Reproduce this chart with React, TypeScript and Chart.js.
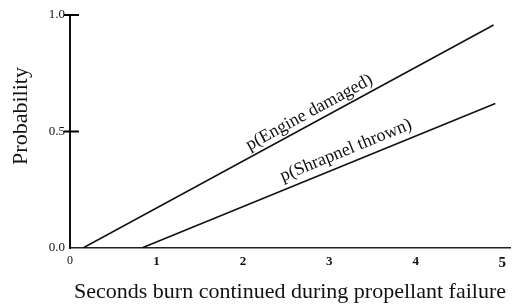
import React, { useEffect, useRef } from "react";
import { Chart, registerables } from "chart.js";
Chart.register(...registerables);

const xTicks = [0, 1, 2, 3, 4, 5];
const yTicks = [0, 0.5, 1.0];
const engineX = [0.15, 4.9];
const engineP = [0, 0.957];
const shrapnelX = [0.83, 4.92];
const shrapnelP = [0, 0.62];
const seriesLabels = ["p(Engine damaged)", "p(Shrapnel thrown)"];
const xTitle = "Seconds burn continued during propellant failure";
const yTitle = "Probability";

const SERIF = "'Liberation Serif', 'Times New Roman', serif";

export default function App() {
  const ref = useRef<HTMLCanvasElement | null>(null);
  useEffect(() => {
    if (!ref.current) return;
    const labelAtX = [2.83, 3.25];
    const labelOff = [11, 13];
    const labelPlugin = {
      id: "lineLabels",
      afterDatasetsDraw(chart: any) {
        const ctx = chart.ctx;
        const xs = chart.scales.x;
        ctx.save();
        ctx.fillStyle = "#111";
        ctx.font = `18px ${SERIF}`;
        ctx.textAlign = "center";
        ctx.textBaseline = "middle";
        chart.data.datasets.forEach((ds: any, i: number) => {
          const meta = chart.getDatasetMeta(i);
          const p0 = meta.data[0];
          const p1 = meta.data[meta.data.length - 1];
          const a = Math.atan2(p1.y - p0.y, p1.x - p0.x);
          const px = xs.getPixelForValue(labelAtX[i]);
          const t = (px - p0.x) / (p1.x - p0.x);
          const py = p0.y + t * (p1.y - p0.y);
          const off = labelOff[i];
          const cx = px + Math.sin(a) * off;
          const cy = py - Math.cos(a) * off;
          ctx.save();
          ctx.translate(cx, cy);
          ctx.rotate(a);
          ctx.fillText(seriesLabels[i], 0, 0);
          ctx.restore();
        });
        ctx.restore();
      },
      afterDraw(chart: any) {
        const ctx = chart.ctx;
        const ys = chart.scales.y;
        const ax = chart.chartArea.left;
        ctx.save();
        ctx.strokeStyle = "#000";
        ctx.lineWidth = 2;
        yTicks.forEach((v) => {
          if (v === 0) return;
          const y = ys.getPixelForValue(v);
          ctx.beginPath();
          ctx.moveTo(ax - 6, y);
          ctx.lineTo(ax + 9, y);
          ctx.stroke();
        });
        ctx.fillStyle = "#111";
        ctx.font = `22px ${SERIF}`;
        ctx.textAlign = "center";
        ctx.textBaseline = "middle";
        ctx.translate(21, 116);
        ctx.rotate(-Math.PI / 2);
        ctx.fillText(yTitle, 0, 0);
        ctx.restore();
      },
    };
    const chart = new Chart(ref.current, {
      type: "scatter",
      data: {
        datasets: [
          {
            label: seriesLabels[0],
            data: engineX.map((x, i) => ({ x, y: engineP[i] })),
            showLine: true,
            borderColor: "#111",
            borderWidth: 1.6,
            pointRadius: 0,
          },
          {
            label: seriesLabels[1],
            data: shrapnelX.map((x, i) => ({ x, y: shrapnelP[i] })),
            showLine: true,
            borderColor: "#111",
            borderWidth: 1.6,
            pointRadius: 0,
          },
        ],
      },
      options: {
        responsive: false,
        animation: false,
        layout: { padding: { left: 0, top: 15, right: 7, bottom: 0 } },
        plugins: { legend: { display: false }, tooltip: { enabled: false } },
        scales: {
          x: {
            type: "linear",
            min: 0,
            max: 5.09,
            afterBuildTicks: (s: any) => {
              s.ticks = xTicks.map((v) => ({ value: v }));
            },
            afterFit: (s: any) => {
              s.height = 60;
            },
            grid: { display: false, drawTicks: false },
            border: { display: true, color: "#222", width: 1.6 },
            ticks: {
              padding: 6,
              color: "#111",
              font: (c: any) =>
                c.tick && c.tick.value === 5
                  ? { family: SERIF, size: 15, weight: "bold" }
                  : c.tick && c.tick.value === 0
                  ? { family: SERIF, size: 12 }
                  : { family: SERIF, size: 13, weight: "bold" },
              maxRotation: 0,
              autoSkip: false,
            },
            title: {
              display: true,
              text: xTitle,
              color: "#111",
              font: { family: SERIF, size: 22 },
              padding: { top: 0, bottom: 3 },
            },
          },
          y: {
            type: "linear",
            min: 0,
            max: 1,
            afterBuildTicks: (s: any) => {
              s.ticks = yTicks.map((v) => ({ value: v }));
            },
            afterFit: (s: any) => {
              s.width = 70;
            },
            grid: { display: false, drawTicks: false },
            border: { display: true, color: "#111", width: 2 },
            ticks: {
              padding: 5,
              color: "#111",
              font: { family: SERIF, size: 13 },
              callback: (v: any) => Number(v).toFixed(1),
            },
          },
        },
      },
      plugins: [labelPlugin],
    } as any);
    return () => chart.destroy();
  }, []);
  return (
    <div style={{ position: "absolute", left: 0, top: 0, width: 517, height: 308, background: "#fff" }}>
      <canvas ref={ref} width={517} height={308} />
    </div>
  );
}
